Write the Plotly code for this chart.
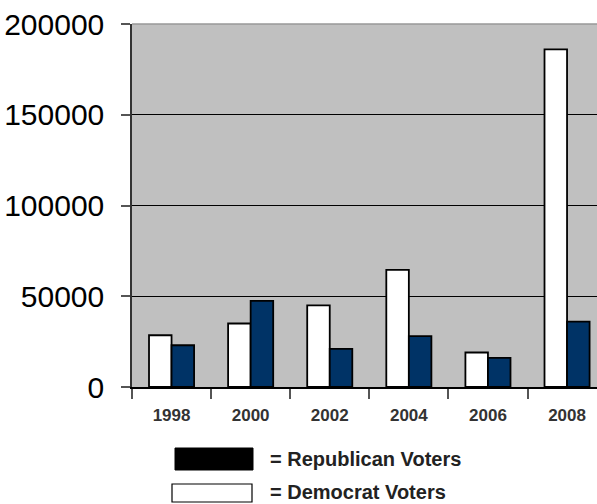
import plotly.graph_objects as go

years = ["1998", "2000", "2002", "2004", "2006", "2008"]
democrat = [28500, 35000, 45000, 64500, 19000, 186000]
republican = [23000, 47500, 21000, 28000, 16000, 36000]
y_ticks = [0, 50000, 100000, 150000, 200000]
legend_labels = ["= Republican Voters", "= Democrat Voters"]

W, H = 597, 504
L, R, T, B = 132, 0, 24, 117
PW, PH = W - L - R, H - T - B


def px(x):
    return (x - L) / PW


def py(y):
    return (H - B - y) / PH


fig = go.Figure()
fig.add_trace(go.Bar(x=years, y=democrat, name="Democrat Voters",
                     marker=dict(color="#ffffff", line=dict(color="#000000", width=1.8))))
fig.add_trace(go.Bar(x=years, y=republican, name="Republican Voters",
                     marker=dict(color="#003366", line=dict(color="#000000", width=1.8))))

shapes = [
    dict(type="line", xref="paper", yref="paper", x0=0, x1=1, y0=1, y1=1,
         line=dict(color="#999999", width=1.5), layer="above"),
    dict(type="rect", xref="paper", yref="paper", x0=px(175), x1=px(253), y0=py(448), y1=py(470),
         fillcolor="#000000", line=dict(color="#000000", width=1)),
    dict(type="rect", xref="paper", yref="paper", x0=px(172), x1=px(252), y0=py(484), y1=py(502),
         fillcolor="#ffffff", line=dict(color="#000000", width=1.2)),
]
annotations = [
    dict(text="<b>%s</b>" % legend_labels[0], xref="paper", yref="paper", x=px(268), y=py(459),
         xanchor="left", yanchor="middle", showarrow=False,
         font=dict(family="Liberation Sans, Arial, sans-serif", size=20, color="#222222")),
    dict(text="<b>%s</b>" % legend_labels[1], xref="paper", yref="paper", x=px(268), y=py(491.5),
         xanchor="left", yanchor="middle", showarrow=False,
         font=dict(family="Liberation Sans, Arial, sans-serif", size=20, color="#222222")),
]

fig.update_layout(
    width=W, height=H,
    margin=dict(l=L, r=R, t=T, b=B, pad=0),
    paper_bgcolor="#ffffff",
    plot_bgcolor="#c0c0c0",
    barmode="group",
    bargap=0.43,
    bargroupgap=0,
    showlegend=False,
    shapes=shapes,
    annotations=annotations,
    xaxis=dict(
        type="category",
        automargin=False,
        range=[-0.5, -0.5 + PW / 79.1],
        tickson="boundaries",
        ticks="outside", ticklen=10, tickwidth=1.5, tickcolor="#555555",
        showgrid=False, showline=True, linecolor="#000000", linewidth=1.5,
        tickfont=dict(family="Liberation Sans, Arial, sans-serif", size=17, color="#333333"),
        tickvals=years,
        ticktext=["<b>%s</b>" % y for y in years],
        zeroline=False,
        ticklabelstandoff=12,
    ),
    yaxis=dict(
        automargin=False,
        range=[0, 200000],
        tickvals=y_ticks,
        ticktext=[str(v) for v in y_ticks],
        ticks="outside", ticklen=9, tickwidth=1.5, tickcolor="#555555",
        showgrid=True, gridcolor="#000000", gridwidth=1,
        showline=True, linecolor="#333333", linewidth=1.5,
        zeroline=False,
        tickfont=dict(family="Liberation Sans, Arial, sans-serif", size=30, color="#000000"),
        ticklabelstandoff=11,
    ),
)

fig.write_html("out.html")
